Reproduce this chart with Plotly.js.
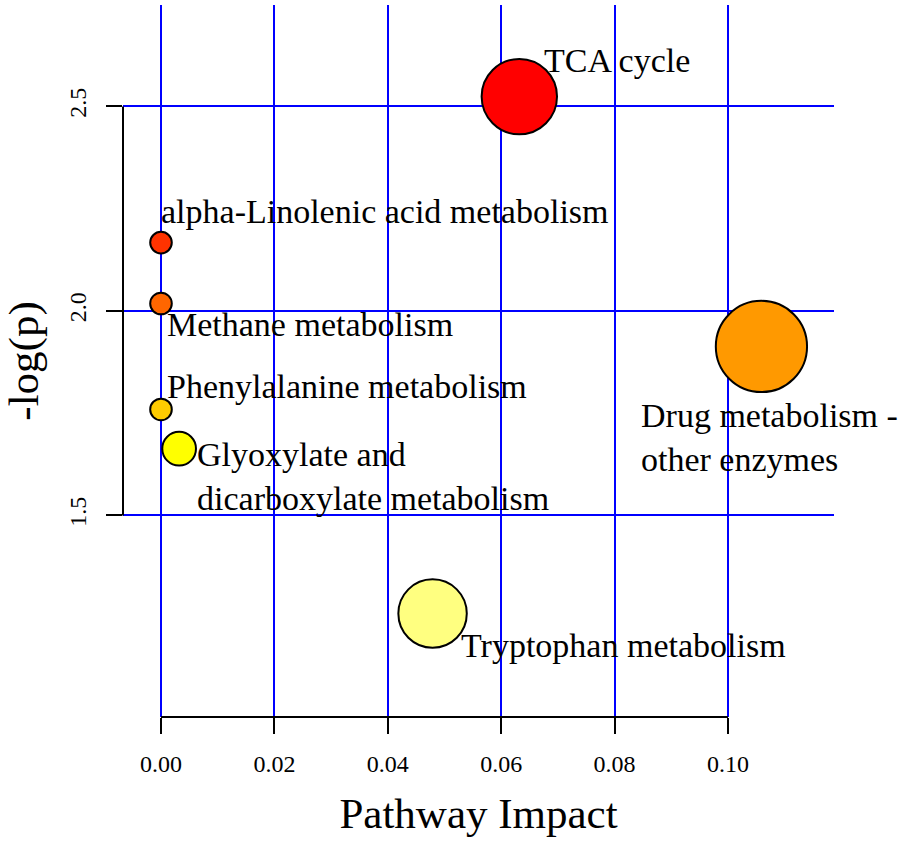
<!DOCTYPE html>
<html>
<head>
<meta charset="utf-8">
<script src="https://cdn.plot.ly/plotly-3.0.1.min.js"></script>
<style>html,body{margin:0;padding:0;background:#fff;}#chart{width:902px;height:843px;}</style>
</head>
<body>
<div id="chart"></div>
<script>
// ---- data ----
const pathways = ["TCA cycle", "alpha-Linolenic acid metabolism", "Methane metabolism",
  "Phenylalanine metabolism", "Glyoxylate and dicarboxylate metabolism",
  "Tryptophan metabolism", "Drug metabolism - other enzymes"];
const labelText = ["TCA cycle", "alpha-Linolenic acid metabolism", "Methane metabolism",
  "Phenylalanine metabolism", "Glyoxylate and<br>dicarboxylate metabolism",
  "Tryptophan metabolism", "Drug metabolism -<br>other enzymes"];
const impact = [0.0632, 0.0, 0.0, 0.0, 0.0032, 0.0479, 0.1059];
const negLogP = [2.524, 2.167, 2.018, 1.759, 1.663, 1.260, 1.913];
const xTickVals = [0, 0.02, 0.04, 0.06, 0.08, 0.10];
const xTickText = ["0.00", "0.02", "0.04", "0.06", "0.08", "0.10"];
const yTickVals = [1.5, 2.0, 2.5];
const yTickText = ["1.5", "2.0", "2.5"];

// ---- styles ----
const fillColors = ["#FF0000", "#FF3300", "#FF6600", "#FFCC00", "#FFFF00", "#FFFF80", "#FF9900"];
// label placement (px offsets from bubble centre)
const labelDx = [23, -2, 4, 4, 16, 26, -122];
const labelDy = [36, 31, -21, 23, -28, -32, -91];
const FONT = "Liberation Serif, Times New Roman, serif";

// bubble diameter scale from impact
const sizes = impact.map(v => 2 * (11.8 + 107 * Math.sqrt(v)) - 2);

const trace = {
  type: "scatter", mode: "markers",
  x: impact, y: negLogP, text: pathways, hoverinfo: "text",
  marker: { size: sizes, sizemode: "diameter", color: fillColors, opacity: 1,
            line: { color: "#000", width: 2 } },
  cliponaxis: false
};

const annotations = labelText.map((t, i) => ({
  x: impact[i], y: negLogP[i], xref: "x", yref: "y",
  text: t, showarrow: false, xanchor: "left", yanchor: "middle", align: "left",
  xshift: labelDx[i], yshift: labelDy[i],
  font: { family: FONT, size: 34, color: "#000" }
}));

const shapes = [
  { type: "line", xref: "x", yref: "paper", x0: xTickVals[0], x1: xTickVals[xTickVals.length - 1], y0: 0, y1: 0,
    line: { color: "#000", width: 2 } },
  { type: "line", xref: "paper", yref: "y", x0: 0, x1: 0, y0: yTickVals[0], y1: yTickVals[yTickVals.length - 1],
    line: { color: "#000", width: 2 } }
];

const layout = {
  width: 902, height: 843,
  margin: { l: 123, r: 68, t: 5, b: 126 },
  paper_bgcolor: "#fff", plot_bgcolor: "#fff",
  showlegend: false,
  font: { family: FONT, color: "#000" },
  xaxis: {
    range: [-0.0067, 0.1187], tickvals: xTickVals, ticktext: xTickText,
    showgrid: true, gridcolor: "#0000FF", gridwidth: 2, zeroline: false, showline: false,
    ticks: "outside", ticklen: 16, tickwidth: 2, tickcolor: "#000",
    ticklabelstandoff: 9,
    tickfont: { family: FONT, size: 24, color: "#000" },
    title: { text: "Pathway Impact", font: { family: FONT, size: 43, color: "#000" }, standoff: 22 }
  },
  yaxis: {
    range: [1.007, 2.748], tickvals: yTickVals, ticktext: yTickText,
    showgrid: true, gridcolor: "#0000FF", gridwidth: 2, zeroline: false, showline: false,
    ticks: "outside", ticklen: 16, tickwidth: 2, tickcolor: "#000", tickangle: -90,
    ticklabelstandoff: 10,
    tickfont: { family: FONT, size: 24, color: "#000" },
    title: { text: "-log(p)", font: { family: FONT, size: 43, color: "#000" }, standoff: 20 }
  },
  annotations: annotations,
  shapes: shapes
};

Plotly.newPlot("chart", [trace], layout, { staticPlot: true, displayModeBar: false });
</script>
</body>
</html>
